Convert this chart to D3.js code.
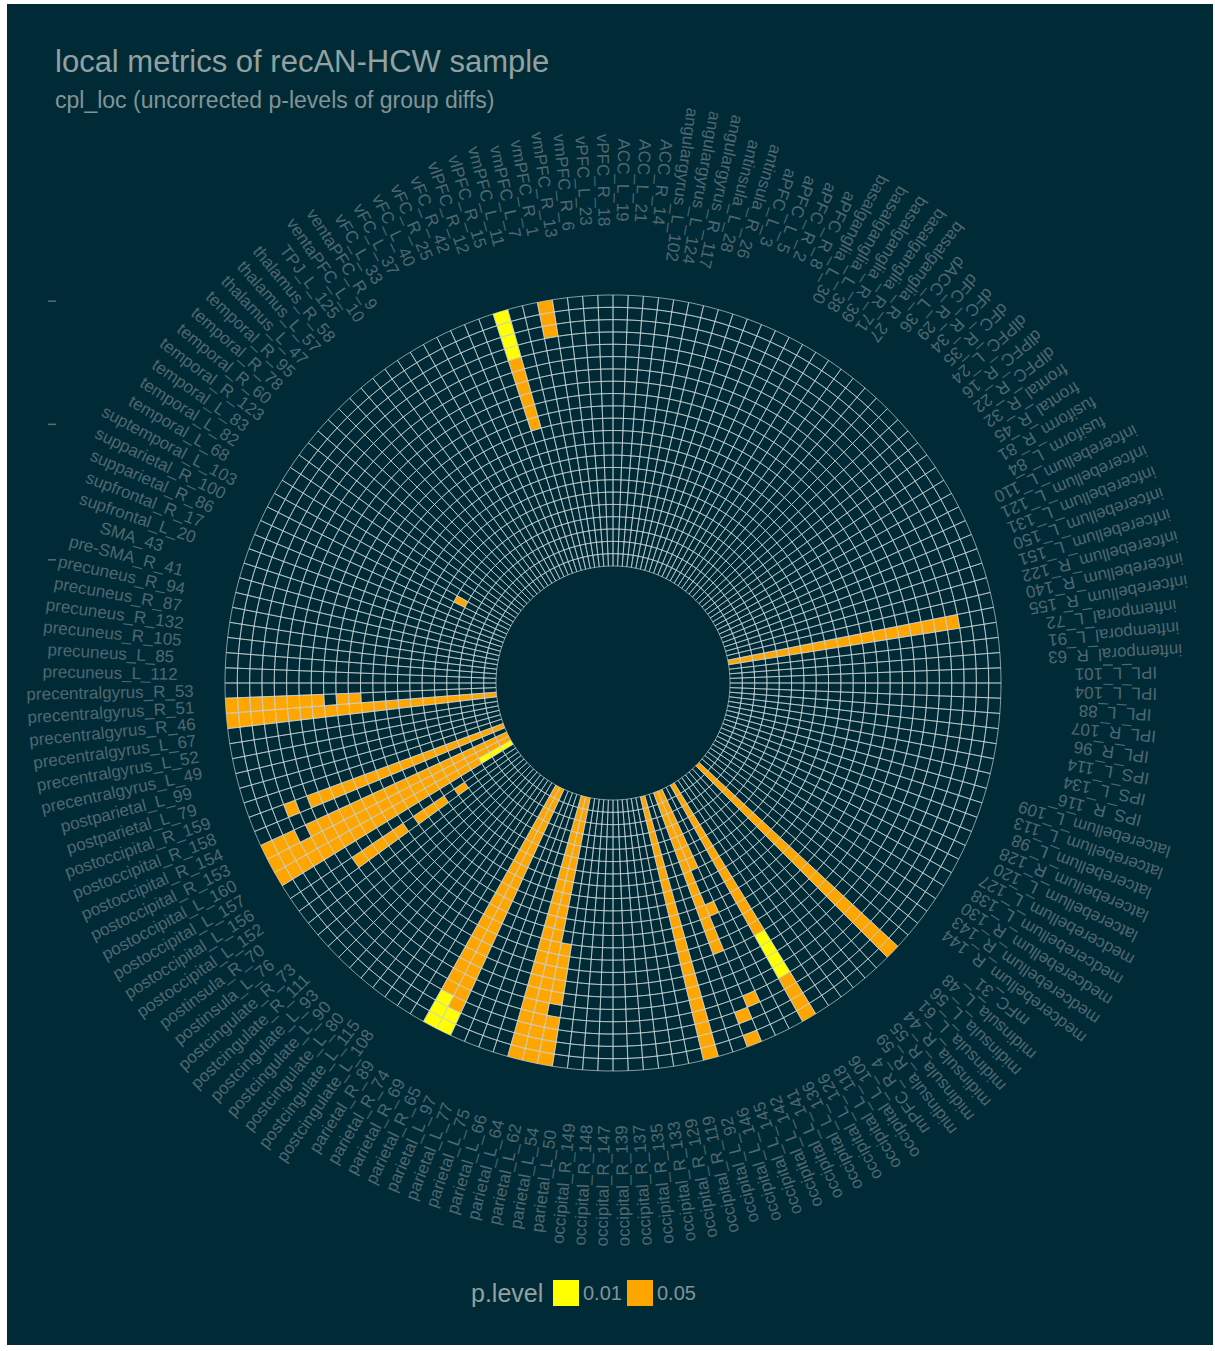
<!DOCTYPE html>
<html>
<head>
<meta charset="utf-8">
<script src="https://cdn.jsdelivr.net/npm/d3@7"></script>
<style>
  html, body { margin: 0; padding: 0; background: #ffffff; }
  svg { display: block; }
  text { font-family: "Liberation Sans", Arial, Helvetica, sans-serif; }
</style>
</head>
<body>
<svg id="chart" width="1215" height="1351"></svg>
<script>
// ROI labels, clockwise from 12 o'clock
const regions = [
  "ACC_L_19","ACC_L_21","ACC_R_14","angulargyrus_L_102","angulargyrus_L_124","angulargyrus_R_117",
  "antinsula_L_28","antinsula_R_26","aPFC_L_3","aPFC_L_5","aPFC_R_2","aPFC_R_8",
  "basalganglia_L_30","basalganglia_L_38","basalganglia_R_39","basalganglia_R_71","basalganglia_R_27",
  "dACC_L_36","dFC_R_29","dFC_R_34","dFC_R_35","dlPFC_L_24","dlPFC_R_16","dlPFC_R_22",
  "frontal_R_32","frontal_R_45","fusiform_R_81","fusiform_L_84",
  "infcerebellum_L_110","infcerebellum_L_121","infcerebellum_L_131","infcerebellum_L_150",
  "infcerebellum_L_151","infcerebellum_R_122","infcerebellum_R_140","infcerebellum_R_155",
  "inftemporal_L_72","inftemporal_L_91","inftemporal_R_63",
  "IPL_L_101","IPL_L_104","IPL_L_88","IPL_R_107","IPL_R_96",
  "IPS_L_114","IPS_L_134","IPS_R_116",
  "latcerebellum_L_109","latcerebellum_L_113","latcerebellum_L_98","latcerebellum_R_128","latcerebellum_L_120",
  "medcerebellum_L_127","medcerebellum_L_138","medcerebellum_R_130","medcerebellum_R_143","medcerebellum_R_144",
  "mFC_31","midinsula_L_48","midinsula_L_56","midinsula_L_61","midinsula_R_44","midinsula_R_55","midinsula_R_59",
  "mPFC_R_4",
  "occipital_L_106","occipital_L_118","occipital_L_126","occipital_L_136","occipital_L_141","occipital_L_142",
  "occipital_L_145","occipital_L_146","occipital_L_92","occipital_R_119","occipital_R_129","occipital_R_133",
  "occipital_R_135","occipital_R_137","occipital_R_139","occipital_R_147","occipital_R_148","occipital_R_149",
  "parietal_L_50","parietal_L_54","parietal_L_62","parietal_L_64","parietal_L_66","parietal_L_75",
  "parietal_L_77","parietal_L_97","parietal_R_65","parietal_R_69","parietal_R_74","parietal_R_89",
  "postcingulate_L_108","postcingulate_L_115","postcingulate_L_80","postcingulate_L_90","postcingulate_L_93",
  "postcingulate_R_111","postcingulate_R_73","postinsula_L_76","postinsula_R_70",
  "postoccipital_L_152","postoccipital_L_156","postoccipital_L_157","postoccipital_L_160",
  "postoccipital_R_153","postoccipital_R_154","postoccipital_R_158","postoccipital_R_159",
  "postparietal_L_79","postparietal_L_99",
  "precentralgyrus_L_49","precentralgyrus_L_52","precentralgyrus_L_67","precentralgyrus_R_46",
  "precentralgyrus_R_51","precentralgyrus_R_53",
  "precuneus_L_112","precuneus_L_85","precuneus_R_105","precuneus_R_132","precuneus_R_87","precuneus_R_94",
  "pre-SMA_R_41","SMA_43","supfrontal_L_20","supfrontal_R_17","supparietal_R_86","supparietal_R_100",
  "suptemporal_L_103",
  "temporal_L_68","temporal_L_82","temporal_L_83","temporal_R_123","temporal_R_60","temporal_R_78","temporal_R_95",
  "thalamus_L_47","thalamus_L_57","thalamus_R_58","TPJ_L_125","ventaPFC_L_10","ventaPFC_R_9",
  "vFC_L_33","vFC_L_37","vFC_L_40","vFC_R_25","vFC_R_42","vlPFC_R_12","vlPFC_R_15",
  "vmPFC_L_11","vmPFC_L_7","vmPFC_R_1","vmPFC_R_13","vmPFC_R_6","vPFC_L_23","vPFC_R_18"
];

// threshold steps, step 0 is the outer ring
const steps = d3.range(22);

// significant runs per ROI: [roi, first step, last step]
const sigP01 = [
  ["vlPFC_R_15", 0, 3],
  ["occipital_L_118", 4, 7],
  ["parietal_R_69", 0, 2],
  ["parietal_R_65", 0, 1],
  ["postoccipital_L_157", 19, 21]
];
const sigP05 = [
  ["vlPFC_R_15", 4, 9],
  ["vmPFC_R_1", 0, 2],
  ["suptemporal_L_103", 17, 17],
  ["infcerebellum_R_155", 3, 21],
  ["midinsula_L_56", 0, 21],
  ["occipital_L_118", 0, 3],
  ["occipital_L_118", 8, 21],
  ["occipital_L_141", 3, 3],
  ["occipital_L_141", 11, 11],
  ["occipital_L_141", 15, 21],
  ["occipital_L_142", 0, 0],
  ["occipital_L_142", 2, 2],
  ["occipital_L_142", 8, 21],
  ["occipital_L_92", 0, 21],
  ["parietal_L_54", 0, 3],
  ["parietal_L_54", 5, 9],
  ["parietal_L_62", 0, 21],
  ["parietal_L_64", 0, 21],
  ["parietal_R_65", 2, 21],
  ["parietal_R_69", 3, 21],
  ["postoccipital_L_152", 6, 10],
  ["postoccipital_L_152", 12, 14],
  ["postoccipital_L_152", 16, 16],
  ["postoccipital_L_157", 0, 18],
  ["postoccipital_L_160", 0, 21],
  ["postoccipital_R_153", 0, 2],
  ["postoccipital_R_153", 4, 21],
  ["postoccipital_R_158", 3, 3],
  ["postoccipital_R_158", 5, 21],
  ["precentralgyrus_R_46", 0, 21],
  ["precentralgyrus_R_51", 0, 7],
  ["precentralgyrus_R_51", 9, 10]
];

const pLevels = ["0.01", "0.05"];
const pColors = ["#ffff00", "#ffa500"];

const titleText = "local metrics of recAN-HCW sample";
const subtitleText = "cpl_loc (uncorrected p-levels of group diffs)";
const legendTitle = "p.level";

// ---- layout ----
const cx = 613, cy = 683;
const rInner = 117, rOuter = 388, rLabel = 503;

const svg = d3.select("#chart");
svg.append("rect").attr("x", 7).attr("y", 4).attr("width", 1206).attr("height", 1341)
  .attr("fill", "#002b36");

const theta = d3.scaleBand().domain(regions).range([0, 2 * Math.PI]).padding(0);
const radius = d3.scaleBand().domain(steps.slice().reverse()).range([rInner, rOuter]).padding(0);
const colorOf = d3.scaleOrdinal().domain(pLevels).range(pColors);

const arc = d3.arc()
  .startAngle(d => theta(d.roi))
  .endAngle(d => theta(d.roi) + theta.bandwidth())
  .innerRadius(d => radius(d.step))
  .outerRadius(d => radius(d.step) + radius.bandwidth());

// expand runs into single cells
const cells = [];
[[sigP01, pLevels[0]], [sigP05, pLevels[1]]].forEach(([runs, p]) => {
  runs.forEach(([roi, a, b]) => {
    d3.range(a, b + 1).forEach(step => cells.push({ roi, step, p }));
  });
});

const g = svg.append("g").attr("transform", `translate(${cx},${cy})`);

// filled cells
g.append("g").selectAll("path").data(cells).join("path")
  .attr("d", arc)
  .attr("fill", d => colorOf(d.p));

// tile outlines over the whole grid
const grid = d3.cross(regions, steps).map(([roi, step]) => ({ roi, step }));
g.append("g").selectAll("path").data(grid).join("path")
  .attr("d", arc)
  .attr("fill", "none")
  .attr("stroke", "#cdd8da")
  .attr("stroke-width", 0.65);

// ROI labels, rotated radially
svg.append("g").selectAll("text").data(regions).join("text")
  .attr("transform", d => {
    const a = theta(d) + theta.bandwidth() / 2;
    const x = cx + rLabel * Math.sin(a), y = cy - rLabel * Math.cos(a);
    return `translate(${x},${y}) rotate(${a * 180 / Math.PI + 90})`;
  })
  .attr("text-anchor", "middle")
  .attr("dominant-baseline", "central")
  .attr("font-size", 17)
  .attr("fill", "#4f6770")
  .text(d => d);

// radial axis marks on the left
const axisSteps = [0, 10, 21];
svg.append("g").selectAll("line").data(axisSteps).join("line")
  .attr("x1", 48).attr("x2", 56)
  .attr("y1", d => cy - (radius(d) + radius.bandwidth() / 2))
  .attr("y2", d => cy - (radius(d) + radius.bandwidth() / 2))
  .attr("stroke", "#586e75").attr("stroke-width", 1.5);

// titles
svg.append("text").attr("x", 55).attr("y", 72).attr("font-size", 31)
  .attr("fill", "#93a1a1").text(titleText);
svg.append("text").attr("x", 55).attr("y", 108).attr("font-size", 23)
  .attr("fill", "#839496").text(subtitleText);

// legend
const lg = svg.append("g");
lg.append("text").attr("x", 471).attr("y", 1302).attr("font-size", 25)
  .attr("fill", "#93a1a1").text(legendTitle);
const keyX = d3.scaleOrdinal().domain(pLevels).range([553, 627]);
lg.selectAll("rect.key").data(pLevels).join("rect")
  .attr("class", "key")
  .attr("x", d => keyX(d)).attr("y", 1280).attr("width", 26).attr("height", 26)
  .attr("fill", d => colorOf(d));
lg.selectAll("text.klab").data(pLevels).join("text")
  .attr("class", "klab")
  .attr("x", d => keyX(d) + 30).attr("y", 1300).attr("font-size", 20)
  .attr("fill", "#839496").text(d => d);
</script>
</body>
</html>
